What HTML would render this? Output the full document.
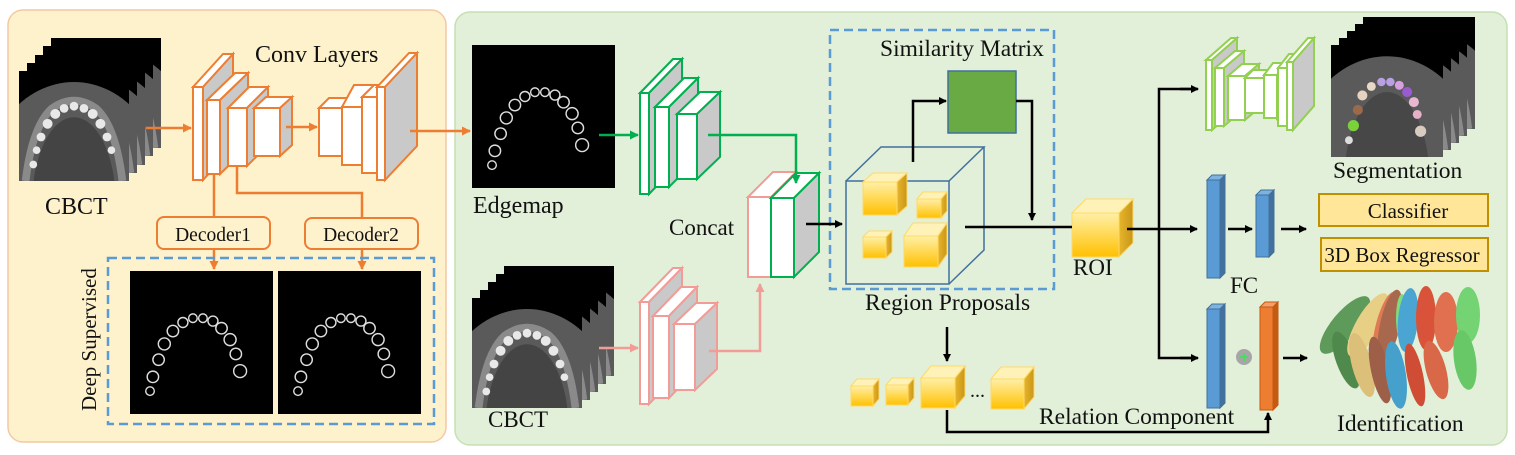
<!DOCTYPE html>
<html><head><meta charset="utf-8"><style>
html,body{margin:0;padding:0;background:#fff;width:1515px;height:455px;overflow:hidden}
svg{display:block}
text{font-family:"Liberation Serif",serif;fill:#111}
</style></head><body>
<svg width="1515" height="455" viewBox="0 0 1515 455" xmlns="http://www.w3.org/2000/svg">
<defs>
<marker id="ak" markerWidth="8" markerHeight="8" refX="7" refY="4" orient="auto" markerUnits="userSpaceOnUse"><path d="M0,0 L8,4 L0,8 z" fill="#000"/></marker>
<marker id="ao" markerWidth="9" markerHeight="9" refX="8" refY="4.5" orient="auto" markerUnits="userSpaceOnUse"><path d="M0,0 L9,4.5 L0,9 z" fill="#ed7d31"/></marker>
<marker id="ag" markerWidth="9" markerHeight="9" refX="8" refY="4.5" orient="auto" markerUnits="userSpaceOnUse"><path d="M0,0 L9,4.5 L0,9 z" fill="#00b050"/></marker>
<marker id="ap" markerWidth="9" markerHeight="9" refX="8" refY="4.5" orient="auto" markerUnits="userSpaceOnUse"><path d="M0,0 L9,4.5 L0,9 z" fill="#f19c97"/></marker>
<linearGradient id="yf" x1="0" y1="0" x2="0" y2="1"><stop offset="0" stop-color="#fff0a8"/><stop offset="1" stop-color="#ffc000"/></linearGradient>
<linearGradient id="ys" x1="0" y1="0" x2="1" y2="0"><stop offset="0" stop-color="#e6b52a"/><stop offset="1" stop-color="#c9961a"/></linearGradient>
<clipPath id="sq"><rect x="0" y="0" width="100" height="100"/></clipPath>
<symbol id="ct" viewBox="0 0 100 100" preserveAspectRatio="none">
<rect width="100" height="100" fill="#000"/>
<g clip-path="url(#sq)">
<ellipse cx="50" cy="115" rx="85" ry="105" fill="#5a5a5a"/>
<ellipse cx="50" cy="120" rx="38" ry="78" fill="#444"/>
<path d="M6,100 Q12,50 30,34 Q50,20 70,34 Q88,50 94,100" fill="none" stroke="#8a8a8a" stroke-width="7"/>
<g fill="#e8e8e8"><circle cx="13" cy="85" r="3.5"/><circle cx="16" cy="72" r="3.5"/><circle cx="20" cy="60" r="4"/><circle cx="26" cy="48" r="4.5"/><circle cx="33" cy="39" r="4.5"/><circle cx="41" cy="34" r="4"/><circle cx="50" cy="32" r="4"/><circle cx="59" cy="34" r="4"/><circle cx="67" cy="39" r="4.5"/><circle cx="74" cy="48" r="4.5"/><circle cx="80" cy="60" r="4"/><circle cx="84" cy="72" r="3.5"/></g>
</g></symbol>
<symbol id="seg" viewBox="0 0 100 100" preserveAspectRatio="none">
<rect width="100" height="100" fill="#000"/>
<g clip-path="url(#sq)">
<ellipse cx="50" cy="115" rx="85" ry="105" fill="#5a5a5a"/>
<ellipse cx="50" cy="120" rx="38" ry="78" fill="#474747"/>
<circle cx="16" cy="85" r="3.5" fill="#ddd"/><circle cx="20" cy="72" r="5" fill="#7ad13a"/><circle cx="24" cy="58" r="4.5" fill="#9a6a4a"/><circle cx="28" cy="45" r="4.5" fill="#e6d2c0"/><circle cx="36" cy="37" r="4" fill="#e8d8c8"/><circle cx="45" cy="33" r="3.8" fill="#b9a0e0"/><circle cx="53" cy="33" r="3.8" fill="#b9a0e0"/><circle cx="61" cy="36" r="4" fill="#d9a0e0"/><circle cx="68" cy="42" r="4.5" fill="#9a5ad0"/><circle cx="74" cy="51" r="4.5" fill="#e8b8d0"/><circle cx="77" cy="62" r="4" fill="#e8b0c8"/><circle cx="80" cy="77" r="5" fill="#d8ccc0"/>
</g></symbol>
<symbol id="edge" viewBox="0 0 100 100" preserveAspectRatio="none">
<rect width="100" height="100" fill="#000"/>
<g fill="none" stroke="#ddd" stroke-width="1"><circle cx="14" cy="84" r="3"/><circle cx="16" cy="74" r="4"/><circle cx="20" cy="62" r="4"/><circle cx="24" cy="51" r="4.2"/><circle cx="30" cy="42" r="4"/><circle cx="37" cy="36" r="3.5"/><circle cx="44" cy="33" r="3"/><circle cx="51" cy="33" r="3"/><circle cx="58" cy="35" r="3.5"/><circle cx="64" cy="40" r="4"/><circle cx="70" cy="48" r="4.2"/><circle cx="74" cy="58" r="4"/><circle cx="77" cy="70" r="4.5"/></g>
</symbol>
</defs>

<!-- panels -->
<rect x="8" y="10" width="438" height="432" rx="15" fill="#fef2cc" stroke="#f4c8a4" stroke-width="1.5"/>
<rect x="455" y="12" width="1052" height="433" rx="15" fill="#e2efd9" stroke="#c5e0b3" stroke-width="1.5"/>

<!-- left CBCT stack -->
<use href="#ct" x="51" y="38" width="110" height="110"/>
<use href="#ct" x="43" y="46" width="110" height="110"/>
<use href="#ct" x="35" y="55" width="110" height="110"/>
<use href="#ct" x="27" y="63" width="110" height="110"/>
<use href="#ct" x="19" y="71" width="110" height="110"/>
<text x="45" y="214" font-size="24">CBCT</text>
<text x="255" y="62" font-size="24">Conv Layers</text>

<!-- orange conv boxes -->
<g stroke="#ed7d31" stroke-width="2" stroke-linejoin="miter">
<rect x="193" y="87" width="10" height="93" fill="#fff"/><polygon points="193,87 223,54 233,54 203,87" fill="#fff"/><polygon points="203,87 233,54 233,147 203,180" fill="#c9c9c9"/>
<rect x="207" y="100" width="13" height="74" fill="#fff"/><polygon points="207,100 235,73 248,73 220,100" fill="#fff"/><polygon points="220,100 248,73 248,147 220,174" fill="#c9c9c9"/>
<rect x="228" y="108" width="19" height="58" fill="#fff"/><polygon points="228,108 249,87 268,87 247,108" fill="#fff"/><polygon points="247,108 268,87 268,145 247,166" fill="#c9c9c9"/>
<rect x="254" y="108" width="26" height="48" fill="#fff"/><polygon points="254,108 266,97 292,97 280,108" fill="#fff"/><polygon points="280,108 292,97 292,145 280,156" fill="#c9c9c9"/>
<rect x="319" y="108" width="23" height="48" fill="#fff"/><polygon points="319,108 329,98 352,98 342,108" fill="#fff"/><polygon points="342,108 352,98 352,146 342,156" fill="#c9c9c9"/>
<rect x="342" y="107" width="20" height="58" fill="#fff"/><polygon points="342,107 354,85 374,85 362,107" fill="#fff"/><polygon points="362,107 374,85 374,143 362,165" fill="#c9c9c9"/>
<rect x="362" y="97" width="15" height="76" fill="#fff"/><polygon points="362,97 374,85 389,85 377,97" fill="#fff"/><polygon points="377,97 389,85 389,161 377,173" fill="#c9c9c9"/>
<rect x="377" y="87" width="8" height="93" fill="#fff"/><polygon points="377,87 409,53 417,53 385,87" fill="#fff"/><polygon points="385,87 417,53 417,146 385,180" fill="#c9c9c9"/>
</g>
<g stroke="#ed7d31" stroke-width="2.5" fill="none">
<line x1="146" y1="128" x2="191" y2="128" marker-end="url(#ao)"/>
<line x1="286" y1="127" x2="317" y2="127" marker-end="url(#ao)"/>
<line x1="410" y1="131" x2="470" y2="131" marker-end="url(#ao)"/>
<line x1="214" y1="174" x2="214" y2="217"/>
<polyline points="237,166 237,193 362,193 362,218"/>
<line x1="214" y1="249" x2="214" y2="269" marker-end="url(#ao)"/>
<line x1="362" y1="249" x2="362" y2="269" marker-end="url(#ao)"/>
</g>
<rect x="157" y="217" width="113" height="32" rx="7" fill="#fef2cc" stroke="#ed7d31" stroke-width="2"/>
<rect x="305" y="218" width="113" height="31" rx="7" fill="#fef2cc" stroke="#ed7d31" stroke-width="2"/>
<text x="213" y="241" font-size="19.5" text-anchor="middle">Decoder1</text>
<text x="361" y="241" font-size="19.5" text-anchor="middle">Decoder2</text>
<rect x="108" y="258" width="326" height="166" fill="none" stroke="#5b9bd5" stroke-width="2.5" stroke-dasharray="9,5"/>
<text x="0" y="0" font-size="21" transform="translate(96,411) rotate(-90)">Deep Supervised</text>
<use href="#edge" x="130" y="271" width="143" height="143"/>
<use href="#edge" x="278" y="271" width="143" height="143"/>

<!-- edgemap -->
<use href="#edge" x="472" y="45" width="143" height="143"/>
<text x="473" y="213" font-size="24">Edgemap</text>
<!-- lower CBCT stack -->
<use href="#ct" x="504" y="266" width="110" height="110"/>
<use href="#ct" x="496" y="274" width="110" height="110"/>
<use href="#ct" x="488" y="282" width="110" height="110"/>
<use href="#ct" x="480" y="290" width="110" height="110"/>
<use href="#ct" x="472" y="298" width="110" height="110"/>
<text x="488" y="427" font-size="23">CBCT</text>

<!-- green encoder -->
<g stroke="#00b050" stroke-width="2">
<rect x="640" y="93" width="9" height="101" fill="#fff"/><polygon points="640,93 673,59 682,59 649,93" fill="#fff"/><polygon points="649,93 682,59 682,160 649,194" fill="#c9c9c9"/>
<rect x="655" y="107" width="14" height="80" fill="#fff"/><polygon points="655,107 684,78 698,78 669,107" fill="#fff"/><polygon points="669,107 698,78 698,158 669,187" fill="#c9c9c9"/>
<rect x="677" y="114" width="20" height="65" fill="#fff"/><polygon points="677,114 700,92 720,92 697,114" fill="#fff"/><polygon points="697,114 720,92 720,157 697,179" fill="#c9c9c9"/>
</g>
<g stroke="#f19c97" stroke-width="2">
<rect x="640" y="302" width="9" height="102" fill="#fff"/><polygon points="640,302 673,268 682,268 649,302" fill="#fff"/><polygon points="649,302 682,268 682,370 649,404" fill="#c9c9c9"/>
<rect x="653" y="316" width="16" height="82" fill="#fff"/><polygon points="653,316 681,287 697,287 669,316" fill="#fff"/><polygon points="669,316 697,287 697,369 669,398" fill="#c9c9c9"/>
<rect x="674" y="324" width="21" height="66" fill="#fff"/><polygon points="674,324 696,303 717,303 695,324" fill="#fff"/><polygon points="695,324 717,303 717,369 695,390" fill="#c9c9c9"/>
<rect x="748" y="197" width="23" height="80" fill="#fff"/><polygon points="748,197 773,172 796,172 771,197" fill="#fff"/>
</g>
<g stroke="#00b050" stroke-width="2">
<rect x="771" y="198" width="23" height="79" fill="#fff"/><polygon points="771,198 796,173 819,173 794,198" fill="#fff"/><polygon points="794,198 819,173 819,252 794,277" fill="#c9c9c9"/>
</g>
<text x="669" y="235" font-size="23">Concat</text>
<g fill="none" stroke-width="2.5">
<line x1="599" y1="135" x2="638" y2="135" stroke="#00b050" marker-end="url(#ag)"/>
<polyline points="708,135 796,135 796,183" stroke="#00b050" marker-end="url(#ag)"/>
<line x1="599" y1="348" x2="638" y2="348" stroke="#f19c97" marker-end="url(#ap)"/>
<polyline points="709,351 760,351 760,284" stroke="#f19c97" marker-end="url(#ap)"/>
</g>

<!-- similarity / region proposal -->
<rect x="830" y="30" width="224" height="259" fill="none" stroke="#5b9bd5" stroke-width="2.5" stroke-dasharray="9,5"/>
<text x="880" y="56" font-size="23.5">Similarity Matrix</text>
<rect x="948" y="71" width="68" height="62" fill="#6aaa45" stroke="#41719c" stroke-width="1.5"/>
<g fill="none" stroke="#41719c" stroke-width="1.5">
<rect x="846" y="181" width="103" height="103"/>
<polyline points="846,181 881,147 984,147 949,181"/>
<polyline points="984,147 984,250 949,284"/>
</g>
<g stroke="#ffd966" stroke-width="1">
<rect x="863" y="182" width="34" height="33" fill="url(#yf)"/><polygon points="863,182 873,173 907,173 897,182" fill="#fff2b8"/><polygon points="897,182 907,173 907,206 897,215" fill="url(#ys)"/>
<rect x="917" y="199" width="24" height="19" fill="url(#yf)"/><polygon points="917,199 923,192 947,192 941,199" fill="#fff2b8"/><polygon points="941,199 947,192 947,211 941,218" fill="url(#ys)"/>
<rect x="863" y="237" width="23" height="21" fill="url(#yf)"/><polygon points="863,237 869,231 892,231 886,237" fill="#fff2b8"/><polygon points="886,237 892,231 892,252 886,258" fill="url(#ys)"/>
<rect x="904" y="236" width="34" height="31" fill="url(#yf)"/><polygon points="904,236 913,223 947,223 938,236" fill="#fff2b8"/><polygon points="938,236 947,223 947,254 938,267" fill="url(#ys)"/>
<rect x="851" y="386" width="22" height="20" fill="url(#yf)"/><polygon points="851,386 857,379 879,379 873,386" fill="#fff2b8"/><polygon points="873,386 879,379 879,399 873,406" fill="url(#ys)"/>
<rect x="886" y="385" width="22" height="20" fill="url(#yf)"/><polygon points="886,385 892,378 914,378 908,385" fill="#fff2b8"/><polygon points="908,385 914,378 914,398 908,405" fill="url(#ys)"/>
<rect x="921" y="378" width="34" height="30" fill="url(#yf)"/><polygon points="921,378 931,366 965,366 955,378" fill="#fff2b8"/><polygon points="955,378 965,366 965,396 955,408" fill="url(#ys)"/>
<rect x="991" y="379" width="33" height="30" fill="url(#yf)"/><polygon points="991,379 1001,367 1034,367 1024,379" fill="#fff2b8"/><polygon points="1024,379 1034,367 1034,397 1024,409" fill="url(#ys)"/>
<rect x="1072" y="213" width="47" height="44" fill="url(#yf)"/><polygon points="1072,213 1086,199 1133,199 1119,213" fill="#fff2b8"/><polygon points="1119,213 1133,199 1133,243 1119,257" fill="url(#ys)"/>
</g>
<text x="970" y="397" font-size="20">...</text>
<text x="865" y="310" font-size="23.5">Region Proposals</text>
<text x="1073" y="275" font-size="23">ROI</text>
<g fill="none" stroke="#000" stroke-width="2.5">
<line x1="806" y1="224" x2="842" y2="224" marker-end="url(#ak)"/>
<polyline points="913,162 913,101 946,101" marker-end="url(#ak)"/>
<polyline points="1016,101 1032,101 1032,220" marker-end="url(#ak)"/>
<line x1="965" y1="227" x2="1072" y2="227"/>
<line x1="947" y1="327" x2="947" y2="361" marker-end="url(#ak)"/>
<polyline points="947,410 947,432 1268,432 1268,413" marker-end="url(#ak)"/>
<line x1="1127" y1="229" x2="1197" y2="229" marker-end="url(#ak)"/>
<polyline points="1197,89 1159,89 1159,358 1197,358" />
<line x1="1180" y1="89" x2="1198" y2="89" marker-end="url(#ak)"/>
<line x1="1180" y1="358" x2="1198" y2="358" marker-end="url(#ak)"/>
<line x1="1228" y1="229" x2="1252" y2="229" marker-end="url(#ak)"/>
<line x1="1281" y1="229" x2="1306" y2="229" marker-end="url(#ak)"/>
<line x1="1283" y1="358" x2="1307" y2="358" marker-end="url(#ak)"/>
</g>

<!-- UNet -->
<g stroke="#92d050" stroke-width="2">
<rect x="1206" y="60" width="6" height="70" fill="#fff"/><polygon points="1206,60 1231,38 1237,38 1212,60" fill="#fff"/><polygon points="1212,60 1237,38 1237,108 1212,130" fill="#c9c9c9"/>
<rect x="1215" y="68" width="9" height="58" fill="#fff"/><polygon points="1215,68 1235,51 1244,51 1224,68" fill="#fff"/><polygon points="1224,68 1244,51 1244,109 1224,126" fill="#c9c9c9"/>
<rect x="1228" y="76" width="17" height="44" fill="#fff"/><polygon points="1228,76 1242,64 1259,64 1245,76" fill="#fff"/><polygon points="1245,76 1259,64 1259,108 1245,120" fill="#c9c9c9"/>
<rect x="1245" y="78" width="19" height="35" fill="#fff"/><polygon points="1245,78 1253,70 1272,70 1264,78" fill="#fff"/>
<rect x="1264" y="75" width="13" height="43" fill="#fff"/><polygon points="1264,75 1273,63 1286,63 1277,75" fill="#fff"/><polygon points="1277,75 1286,63 1286,106 1277,118" fill="#c9c9c9"/>
<rect x="1278" y="68" width="9" height="58" fill="#fff"/><polygon points="1278,68 1289,54 1298,54 1287,68" fill="#fff"/><polygon points="1287,68 1298,54 1298,112 1287,126" fill="#c9c9c9"/>
<rect x="1287" y="62" width="6" height="68" fill="#fff"/><polygon points="1287,62 1308,38 1314,38 1293,62" fill="#fff"/><polygon points="1293,62 1314,38 1314,106 1293,130" fill="#c9c9c9"/>
</g>

<!-- FC bars -->
<g stroke="#41719c" stroke-width="1">
<rect x="1207" y="180" width="13" height="98" fill="#5b9bd5"/><polygon points="1207,180 1212,175 1225,175 1220,180" fill="#7fb2e0"/><polygon points="1220,180 1225,175 1225,273 1220,278" fill="#41719c"/>
<rect x="1256" y="195" width="13" height="62" fill="#5b9bd5"/><polygon points="1256,195 1261,190 1274,190 1269,195" fill="#7fb2e0"/><polygon points="1269,195 1274,190 1274,252 1269,257" fill="#41719c"/>
<rect x="1207" y="309" width="13" height="99" fill="#5b9bd5"/><polygon points="1207,309 1212,304 1225,304 1220,309" fill="#7fb2e0"/><polygon points="1220,309 1225,304 1225,403 1220,408" fill="#41719c"/>
</g>
<g stroke="#c55a11" stroke-width="1">
<rect x="1260" y="307" width="13" height="103" fill="#ed7d31"/><polygon points="1260,307 1265,302 1278,302 1273,307" fill="#f4a06a"/><polygon points="1273,307 1278,302 1278,405 1273,410" fill="#c55a11"/>
</g>
<circle cx="1244" cy="357" r="8" fill="#a6a6a6"/>
<path d="M1240,357 H1248 M1244,353 V361" stroke="#4cd964" stroke-width="2"/>
<text x="1230" y="293" font-size="23">FC</text>
<rect x="1319" y="194" width="169" height="32" fill="#ffe699" stroke="#bf9000" stroke-width="2"/>
<rect x="1321" y="238" width="167" height="33" fill="#ffe699" stroke="#bf9000" stroke-width="2"/>
<text x="1408" y="218" font-size="21" text-anchor="middle">Classifier</text>
<text x="1402" y="262" font-size="21" text-anchor="middle">3D Box Regressor</text>
<text x="1039" y="424" font-size="23.5">Relation Component</text>

<!-- segmentation stack -->
<use href="#ct" x="1363" y="17" width="112" height="112"/>
<use href="#ct" x="1355" y="24" width="112" height="112"/>
<use href="#ct" x="1347" y="31" width="112" height="112"/>
<use href="#ct" x="1339" y="38" width="112" height="112"/>
<use href="#seg" x="1331" y="45" width="112" height="112"/>
<text x="1333" y="178" font-size="23.5">Segmentation</text>

<!-- teeth -->
<g>
<ellipse cx="1345" cy="325" rx="13" ry="36" transform="rotate(40 1345 325)" fill="#5e9a5a"/>
<ellipse cx="1346" cy="360" rx="10" ry="30" transform="rotate(-20 1346 360)" fill="#4f8a4c"/>
<ellipse cx="1368" cy="325" rx="12" ry="36" transform="rotate(30 1368 325)" fill="#e8cf86"/>
<ellipse cx="1362" cy="365" rx="10" ry="33" transform="rotate(-15 1362 365)" fill="#dcc07a"/>
<ellipse cx="1385" cy="325" rx="9" ry="34" transform="rotate(15 1385 325)" fill="#e07a55"/>
<ellipse cx="1390" cy="325" rx="10" ry="36" transform="rotate(12 1390 325)" fill="#a8684e"/>
<ellipse cx="1380" cy="370" rx="9" ry="34" transform="rotate(-12 1380 370)" fill="#9e5f48"/>
<ellipse cx="1402" cy="318" rx="6" ry="24" fill="#7edc7e"/>
<ellipse cx="1408" cy="320" rx="10" ry="32" transform="rotate(5 1408 320)" fill="#4aa5d2"/>
<ellipse cx="1396" cy="375" rx="10" ry="34" transform="rotate(-8 1396 375)" fill="#45a0cc"/>
<ellipse cx="1426" cy="318" rx="10" ry="32" fill="#d9533a"/>
<ellipse cx="1415" cy="375" rx="8" ry="32" transform="rotate(-12 1415 375)" fill="#cf4d34"/>
<ellipse cx="1446" cy="322" rx="12" ry="30" fill="#e0704f"/>
<ellipse cx="1436" cy="370" rx="10" ry="30" transform="rotate(-15 1436 370)" fill="#d86848"/>
<ellipse cx="1468" cy="315" rx="12" ry="28" fill="#74d474"/>
<ellipse cx="1465" cy="360" rx="11" ry="30" transform="rotate(-8 1465 360)" fill="#68c868"/>
</g>
<text x="1337" y="431" font-size="23.5">Identification</text>
</svg>
</body></html>
